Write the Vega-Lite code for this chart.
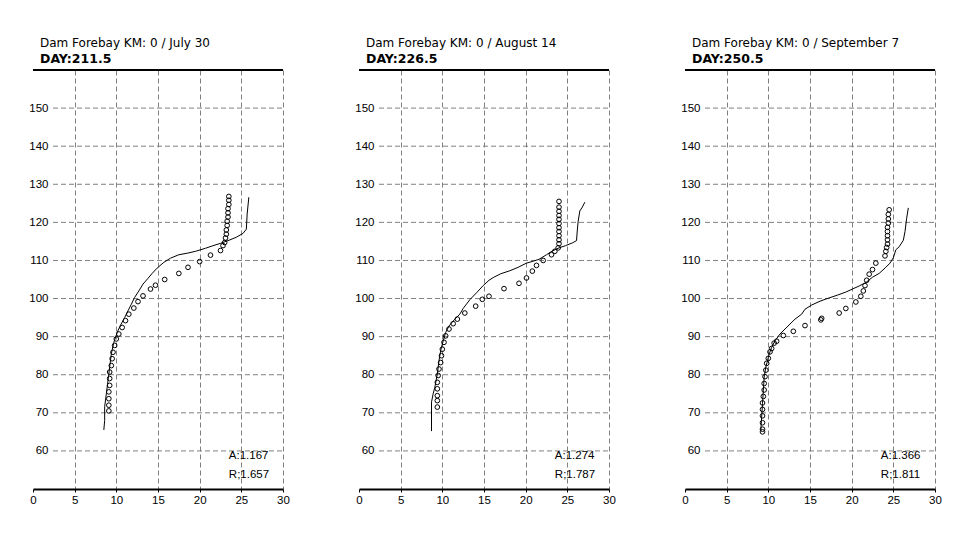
{
  "$schema": "https://vega.github.io/schema/vega-lite/v6.json",
  "padding": {"left": 28, "top": 36, "right": 0, "bottom": 0},
  "background": "white",
  "datasets": {
    "grid": [{"g":60},{"g":70},{"g":80},{"g":90},{"g":100},{"g":110},{"g":120},{"g":130},{"g":140},{"g":150}],
    "line1": [
      {"x":8.5,"y":65.5},{"x":8.6,"y":68},{"x":8.6,"y":71.6},{"x":8.8,"y":75},{"x":9.0,"y":78.5},{"x":9.2,"y":82},{"x":9.4,"y":85.5},{"x":9.7,"y":88.5},{"x":10.1,"y":91.1},{"x":10.5,"y":93.0},{"x":11.0,"y":95.0},{"x":11.4,"y":96.8},{"x":11.8,"y":98.5},{"x":12.2,"y":100.3},{"x":12.7,"y":102},{"x":13.2,"y":103.8},{"x":13.8,"y":105.3},{"x":14.3,"y":106.6},{"x":14.9,"y":108},{"x":15.7,"y":109.5},{"x":16.5,"y":110.6},{"x":17.5,"y":111.5},{"x":18.5,"y":111.9},{"x":19.5,"y":112.4},{"x":20.7,"y":113.2},{"x":21.5,"y":113.8},{"x":22.5,"y":114.5},{"x":23.4,"y":115.2},{"x":24.4,"y":116.1},{"x":25.2,"y":117.1},{"x":25.6,"y":118.2},{"x":25.7,"y":122.2},{"x":25.9,"y":126.6}
    ],
    "obs1": [
      {"x":9.1,"y":70.5},{"x":9.1,"y":72},{"x":9.1,"y":73.7},{"x":9.1,"y":75.5},{"x":9.2,"y":77.2},{"x":9.2,"y":79},{"x":9.2,"y":80.7},{"x":9.4,"y":82.4},{"x":9.5,"y":84.2},{"x":9.6,"y":85.9},{"x":9.8,"y":87.7},{"x":10.0,"y":89.4},{"x":10.3,"y":90.7},{"x":10.7,"y":92.4},{"x":11.1,"y":94.2},{"x":11.5,"y":95.9},{"x":12.1,"y":97.5},{"x":12.6,"y":99.2},{"x":13.2,"y":100.7},{"x":14.1,"y":102.5},{"x":14.7,"y":103.5},{"x":15.8,"y":105.0},{"x":17.5,"y":106.6},{"x":18.6,"y":108.2},{"x":20.0,"y":109.7},{"x":21.3,"y":111.4},{"x":22.5,"y":112.6},{"x":22.8,"y":113.9},{"x":23.0,"y":114.7},{"x":23.1,"y":115.9},{"x":23.2,"y":116.9},{"x":23.2,"y":118.0},{"x":23.3,"y":119.2},{"x":23.3,"y":120.3},{"x":23.4,"y":121.4},{"x":23.4,"y":122.5},{"x":23.4,"y":123.6},{"x":23.5,"y":124.7},{"x":23.5,"y":125.8},{"x":23.5,"y":126.8}
    ],
    "line2": [
      {"x":8.7,"y":65.2},{"x":8.7,"y":72.8},{"x":8.9,"y":75},{"x":9.1,"y":76.7},{"x":9.4,"y":80.2},{"x":9.6,"y":83.7},{"x":9.8,"y":86.3},{"x":10.1,"y":88.9},{"x":10.4,"y":91.1},{"x":10.8,"y":92.8},{"x":11.5,"y":94.6},{"x":12.1,"y":95.9},{"x":12.5,"y":97.4},{"x":13.3,"y":99.7},{"x":14.1,"y":101.5},{"x":14.9,"y":103.4},{"x":15.6,"y":104.8},{"x":16.1,"y":105.5},{"x":17.0,"y":106.5},{"x":18.1,"y":107.3},{"x":19.1,"y":108.2},{"x":20.1,"y":109.3},{"x":20.9,"y":109.8},{"x":21.6,"y":110.3},{"x":22.5,"y":111.5},{"x":23.2,"y":112.5},{"x":24.0,"y":113.3},{"x":24.8,"y":113.9},{"x":25.6,"y":114.6},{"x":26.1,"y":115.2},{"x":26.2,"y":118},{"x":26.3,"y":120.3},{"x":26.5,"y":123.0},{"x":26.8,"y":124},{"x":27.1,"y":125.3}
    ],
    "obs2": [
      {"x":9.4,"y":71.5},{"x":9.4,"y":73.2},{"x":9.4,"y":74.5},{"x":9.4,"y":76.3},{"x":9.4,"y":78},{"x":9.5,"y":79.8},{"x":9.6,"y":81.5},{"x":9.8,"y":83.2},{"x":9.9,"y":85},{"x":10.0,"y":86.7},{"x":10.2,"y":88.5},{"x":10.4,"y":90.2},{"x":10.8,"y":92.0},{"x":11.3,"y":93.4},{"x":11.8,"y":94.6},{"x":12.7,"y":96.2},{"x":14.0,"y":98.0},{"x":14.8,"y":99.8},{"x":15.6,"y":100.6},{"x":17.4,"y":102.6},{"x":19.2,"y":104.0},{"x":20.1,"y":105.4},{"x":20.8,"y":107.2},{"x":21.3,"y":108.7},{"x":22.1,"y":110.0},{"x":23.1,"y":111.5},{"x":23.5,"y":112.4},{"x":23.9,"y":113.3},{"x":24.0,"y":114.4},{"x":24.0,"y":115.4},{"x":24.0,"y":116.5},{"x":24.0,"y":117.6},{"x":24.0,"y":118.6},{"x":24.0,"y":119.7},{"x":24.0,"y":120.8},{"x":24.0,"y":121.8},{"x":24.0,"y":122.9},{"x":24.0,"y":124},{"x":24.0,"y":125.5}
    ],
    "line3": [
      {"x":9.1,"y":65.4},{"x":9.2,"y":68.9},{"x":9.3,"y":72.4},{"x":9.4,"y":75.9},{"x":9.5,"y":79.4},{"x":9.7,"y":82.0},{"x":9.9,"y":83.7},{"x":10.1,"y":85.4},{"x":10.4,"y":87.2},{"x":10.8,"y":88.9},{"x":11.4,"y":90.7},{"x":12.0,"y":92.0},{"x":12.6,"y":93.3},{"x":13.2,"y":94.6},{"x":14.0,"y":95.9},{"x":14.4,"y":97.2},{"x":15.2,"y":98.3},{"x":16.2,"y":99.3},{"x":17.2,"y":100.1},{"x":18.3,"y":100.9},{"x":19.3,"y":101.7},{"x":20.1,"y":102.5},{"x":20.9,"y":103.3},{"x":21.7,"y":104.2},{"x":22.5,"y":105.6},{"x":23.3,"y":106.6},{"x":24.1,"y":108.2},{"x":24.6,"y":109.3},{"x":25.0,"y":110.7},{"x":25.3,"y":112.8},{"x":25.7,"y":113.6},{"x":26.2,"y":115.3},{"x":26.4,"y":117.6},{"x":26.6,"y":121.1},{"x":26.8,"y":123.8}
    ],
    "obs3": [
      {"x":9.3,"y":65.0},{"x":9.3,"y":65.7},{"x":9.3,"y":67.4},{"x":9.3,"y":69.2},{"x":9.3,"y":70.9},{"x":9.3,"y":72.6},{"x":9.4,"y":74.3},{"x":9.5,"y":76.0},{"x":9.5,"y":77.7},{"x":9.6,"y":79.5},{"x":9.7,"y":81.2},{"x":9.8,"y":83.0},{"x":10.0,"y":84.3},{"x":10.2,"y":86.0},{"x":10.4,"y":86.9},{"x":10.7,"y":88.3},{"x":11.0,"y":88.8},{"x":11.8,"y":90.3},{"x":13.0,"y":91.4},{"x":14.4,"y":92.9},{"x":16.3,"y":94.4},{"x":16.4,"y":94.8},{"x":18.5,"y":96.2},{"x":19.3,"y":97.4},{"x":20.5,"y":99.1},{"x":21.1,"y":100.6},{"x":21.4,"y":102.0},{"x":21.6,"y":103.4},{"x":21.8,"y":104.8},{"x":22.1,"y":106.4},{"x":22.5,"y":107.6},{"x":22.9,"y":109.3},{"x":24.0,"y":111.2},{"x":24.1,"y":112.4},{"x":24.2,"y":113.4},{"x":24.3,"y":114.3},{"x":24.3,"y":115.4},{"x":24.3,"y":116.5},{"x":24.3,"y":117.6},{"x":24.3,"y":118.7},{"x":24.4,"y":119.8},{"x":24.4,"y":120.9},{"x":24.4,"y":122.1},{"x":24.5,"y":123.3}
    ]
  },
  "hconcat": [
    {
      "width": 250, "height": 419,
      "title": {"text": "Dam Forebay KM: 0 /  July 30", "subtitle": "DAY:211.5"},
      "layer": [
        {"data": {"name": "grid"}, "mark": {"type": "rule", "color": "#808080", "strokeDash": [5, 3], "strokeWidth": 1},
         "encoding": {"y": {"field": "g", "type": "quantitative", "scale": {"domain": [50, 160], "nice": false, "zero": false}, "axis": {"values": [60,70,80,90,100,110,120,130,140,150], "title": null}},
                      "x": {"datum": 2.4, "scale": {"domain": [0, 30], "nice": false}, "axis": {"values": [0,5,10,15,20,25,30], "title": null}}, "x2": {"datum": 30}}},
        {"data": {"values": [{}]}, "mark": {"type": "rule", "color": "#000000", "strokeWidth": 2},
         "encoding": {"y": {"datum": 160}, "x": {"datum": 0}, "x2": {"datum": 30}}},
        {"data": {"name": "line1"}, "mark": {"type": "line", "color": "#000000", "strokeWidth": 1},
         "encoding": {"x": {"field": "x", "type": "quantitative", "title": null}, "y": {"field": "y", "type": "quantitative", "title": null}, "order": {"field": "y", "type": "quantitative"}}},
        {"data": {"name": "obs1"}, "mark": {"type": "point", "shape": "circle", "filled": false, "color": "#000000", "strokeWidth": 1, "size": 22, "opacity": 1},
         "encoding": {"x": {"field": "x", "type": "quantitative", "title": null}, "y": {"field": "y", "type": "quantitative", "title": null}}},
        {"data": {"values": [{}]}, "mark": {"type": "text", "text": ["A:1.167", "R;1.657"], "align": "left", "baseline": "alphabetic", "font": "Liberation Sans", "fontSize": 11.5, "lineHeight": 19, "color": "#000000"},
         "encoding": {"x": {"datum": 23.5}, "y": {"datum": 58}}}
      ]
    },
    {
      "width": 250, "height": 419,
      "title": {"text": "Dam Forebay KM: 0 / August 14", "subtitle": "DAY:226.5"},
      "layer": [
        {"data": {"name": "grid"}, "mark": {"type": "rule", "color": "#808080", "strokeDash": [5, 3], "strokeWidth": 1},
         "encoding": {"y": {"field": "g", "type": "quantitative", "scale": {"domain": [50, 160], "nice": false, "zero": false}, "axis": {"values": [60,70,80,90,100,110,120,130,140,150], "title": null}},
                      "x": {"datum": 2.4, "scale": {"domain": [0, 30], "nice": false}, "axis": {"values": [0,5,10,15,20,25,30], "title": null}}, "x2": {"datum": 30}}},
        {"data": {"values": [{}]}, "mark": {"type": "rule", "color": "#000000", "strokeWidth": 2},
         "encoding": {"y": {"datum": 160}, "x": {"datum": 0}, "x2": {"datum": 30}}},
        {"data": {"name": "line2"}, "mark": {"type": "line", "color": "#000000", "strokeWidth": 1},
         "encoding": {"x": {"field": "x", "type": "quantitative", "title": null}, "y": {"field": "y", "type": "quantitative", "title": null}, "order": {"field": "y", "type": "quantitative"}}},
        {"data": {"name": "obs2"}, "mark": {"type": "point", "shape": "circle", "filled": false, "color": "#000000", "strokeWidth": 1, "size": 22, "opacity": 1},
         "encoding": {"x": {"field": "x", "type": "quantitative", "title": null}, "y": {"field": "y", "type": "quantitative", "title": null}}},
        {"data": {"values": [{}]}, "mark": {"type": "text", "text": ["A:1.274", "R;1.787"], "align": "left", "baseline": "alphabetic", "font": "Liberation Sans", "fontSize": 11.5, "lineHeight": 19, "color": "#000000"},
         "encoding": {"x": {"datum": 23.5}, "y": {"datum": 58}}}
      ]
    },
    {
      "width": 250, "height": 419,
      "title": {"text": "Dam Forebay KM: 0 / September 7", "subtitle": "DAY:250.5"},
      "layer": [
        {"data": {"name": "grid"}, "mark": {"type": "rule", "color": "#808080", "strokeDash": [5, 3], "strokeWidth": 1},
         "encoding": {"y": {"field": "g", "type": "quantitative", "scale": {"domain": [50, 160], "nice": false, "zero": false}, "axis": {"values": [60,70,80,90,100,110,120,130,140,150], "title": null}},
                      "x": {"datum": 2.4, "scale": {"domain": [0, 30], "nice": false}, "axis": {"values": [0,5,10,15,20,25,30], "title": null}}, "x2": {"datum": 30}}},
        {"data": {"values": [{}]}, "mark": {"type": "rule", "color": "#000000", "strokeWidth": 2},
         "encoding": {"y": {"datum": 160}, "x": {"datum": 0}, "x2": {"datum": 30}}},
        {"data": {"name": "line3"}, "mark": {"type": "line", "color": "#000000", "strokeWidth": 1},
         "encoding": {"x": {"field": "x", "type": "quantitative", "title": null}, "y": {"field": "y", "type": "quantitative", "title": null}, "order": {"field": "y", "type": "quantitative"}}},
        {"data": {"name": "obs3"}, "mark": {"type": "point", "shape": "circle", "filled": false, "color": "#000000", "strokeWidth": 1, "size": 22, "opacity": 1},
         "encoding": {"x": {"field": "x", "type": "quantitative", "title": null}, "y": {"field": "y", "type": "quantitative", "title": null}}},
        {"data": {"values": [{}]}, "mark": {"type": "text", "text": ["A:1.366", "R;1.811"], "align": "left", "baseline": "alphabetic", "font": "Liberation Sans", "fontSize": 11.5, "lineHeight": 19, "color": "#000000"},
         "encoding": {"x": {"datum": 23.5}, "y": {"datum": 58}}}
      ]
    }
  ],
  "spacing": 76,
  "bounds": "flush",
  "config": {
    "view": {"stroke": null},
    "title": {"anchor": "start", "frame": "group", "dx": 7, "offset": 3, "font": "DejaVu Sans", "fontSize": 12, "fontWeight": "normal", "color": "#000000", "subtitleFont": "DejaVu Sans", "subtitleFontSize": 12.5, "subtitleFontWeight": "bold", "subtitleColor": "#000000", "subtitlePadding": 3},
    "axisX": {"grid": true, "gridColor": "#808080", "gridDash": [5, 3], "gridWidth": 1, "gridOpacity": {"condition": {"test": "datum.value == 0", "value": 0}, "value": 1}, "domainColor": "#000000", "domainWidth": 2, "tickColor": "#000000", "tickSize": 3, "tickWidth": 1, "labelColor": "#000000", "labelFont": "Liberation Sans", "labelFontSize": 11.5, "labelPadding": 2, "labelFlush": false, "labelOverlap": false},
    "axisY": {"grid": false, "domain": false, "ticks": false, "tickSize": 0, "labelAlign": "right", "labelBaseline": "middle", "labelPadding": -15, "labelColor": "#000000", "labelFont": "Liberation Sans", "labelFontSize": 11.5, "labelOverlap": false}
  }
}
